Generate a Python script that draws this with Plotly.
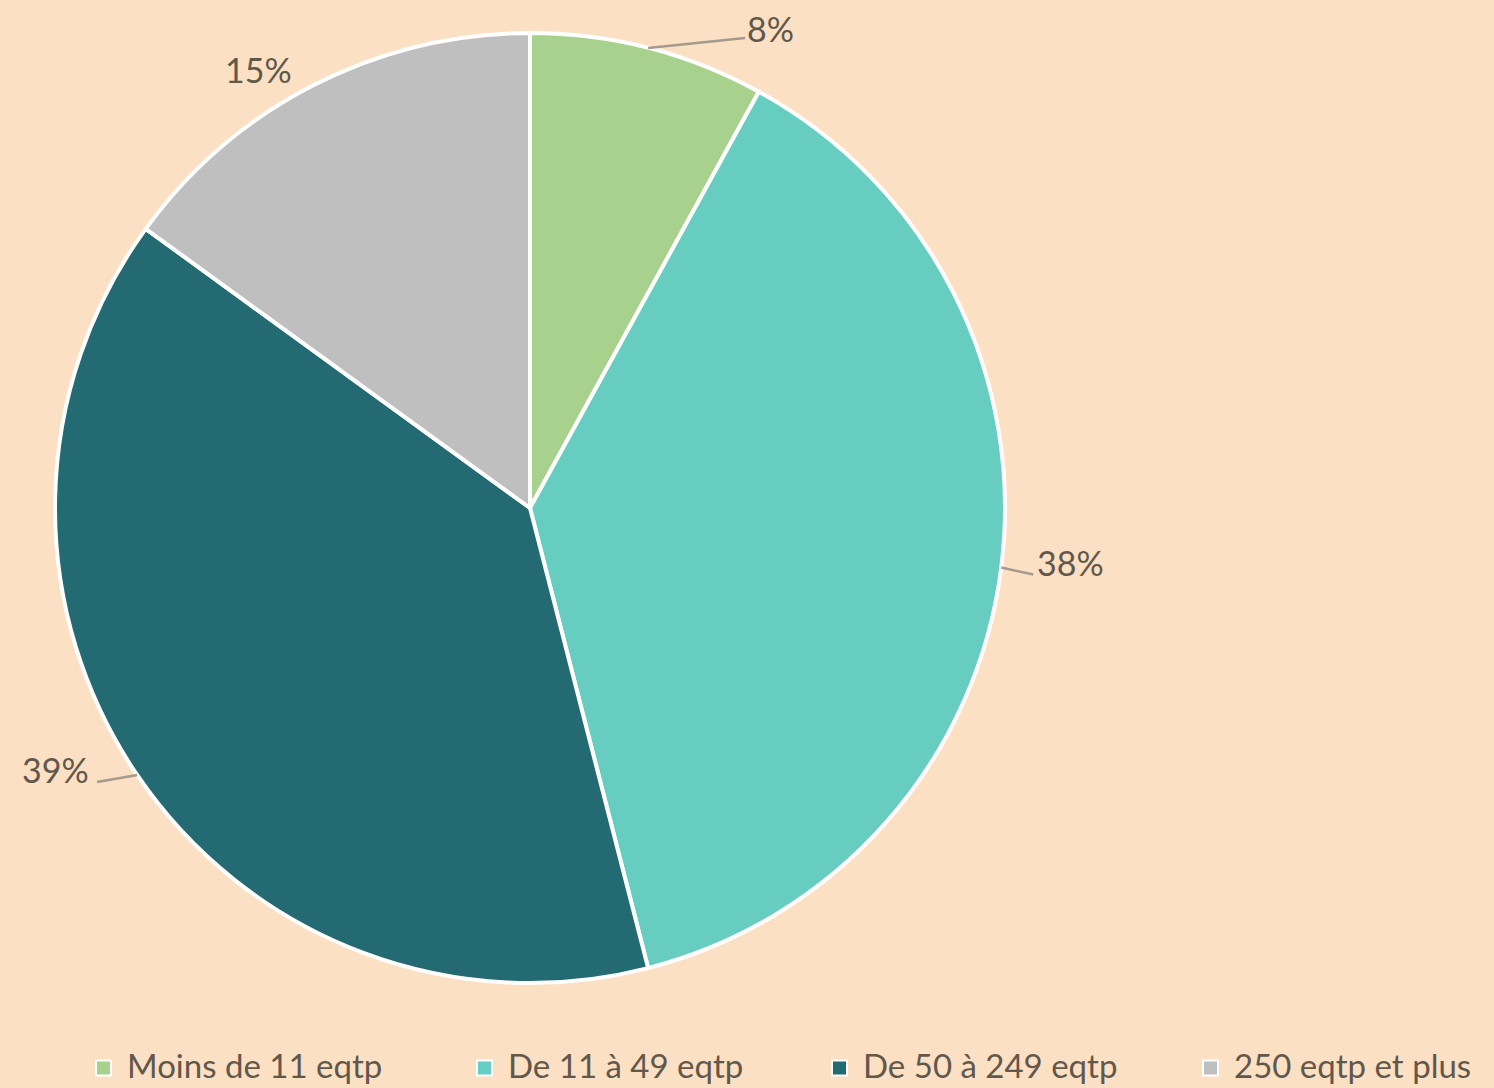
import math
import plotly.graph_objects as go

# Répartition par taille d'établissement (en % des effectifs)
categories = ["Moins de 11 eqtp", "De 11 à 49 eqtp", "De 50 à 249 eqtp", "250 eqtp et plus"]
shares = [8, 38, 39, 15]
colors = ["#A9D18E", "#66CDC0", "#246A73", "#BFBFBF"]

W, H = 1494, 1088
BG = "#FBE0C4"
TEXT = "#62574B"
FONT = "Lato"

# Pie geometry (pixels)
cx, cy, R = 530, 508, 475

def px(x):
    return x / W

def py(y):
    return 1 - y / H

fig = go.Figure(
    go.Pie(
        labels=categories,
        values=shares,
        marker=dict(colors=colors, line=dict(color="white", width=4)),
        sort=False,
        direction="clockwise",
        rotation=0,
        textinfo="none",
        hoverinfo="label+percent",
        showlegend=False,
        domain=dict(x=[px(cx - R), px(cx + R)],
                    y=[py(cy + R), py(cy - R)]),
    )
)

# Label placement: offset (dx, dy) of the text centre from the rim point at the
# slice's mid-angle, and the end of the leader line (None = no leader).
label_nudges = [
    ((122, -19), (97, -10)),
    ((69, -5), (32, 7)),
    ((-82, -5), (-40, 7)),
    ((-56, -15), None),
]

total = sum(shares)
cum = 0
shapes = []
annotations = []
for val, (txt_off, line_end) in zip(shares, label_nudges):
    mid = (cum + val / 2) / total * 2 * math.pi
    cum += val
    rx = cx + R * math.sin(mid)
    ry = cy - R * math.cos(mid)
    tx, ty = rx + txt_off[0], ry + txt_off[1]
    annotations.append(
        dict(
            x=px(tx), y=py(ty), xref="paper", yref="paper",
            text=f"{val}%", showarrow=False,
            xanchor="center", yanchor="middle",
            font=dict(family=FONT, size=34, color=TEXT),
        )
    )
    if line_end is not None:
        ex, ey = rx + line_end[0], ry + line_end[1]
        shapes.append(
            dict(
                type="line", xref="paper", yref="paper",
                x0=px(rx), y0=py(ry), x1=px(ex), y1=py(ey),
                line=dict(color="#A59A8E", width=2.5),
            )
        )

# Legend row along the bottom: colour key + category name
legend_x = [96, 477, 832, 1203]
legend_y = 1068
key = 15
for name, col, lx in zip(categories, colors, legend_x):
    shapes.append(
        dict(
            type="rect", xref="paper", yref="paper",
            x0=px(lx), x1=px(lx + key),
            y0=py(legend_y + key / 2), y1=py(legend_y - key / 2),
            fillcolor=col, line=dict(color="white", width=2),
        )
    )
    annotations.append(
        dict(
            x=px(lx + 29), y=py(legend_y - 3), xref="paper", yref="paper",
            text=name, showarrow=False,
            xanchor="left", yanchor="middle",
            font=dict(family=FONT, size=33, color=TEXT),
        )
    )

fig.update_layout(
    width=W,
    height=H,
    margin=dict(l=0, r=0, t=0, b=0),
    paper_bgcolor=BG,
    plot_bgcolor=BG,
    showlegend=False,
    annotations=annotations,
    shapes=shapes,
)

fig.write_html("out.html")
